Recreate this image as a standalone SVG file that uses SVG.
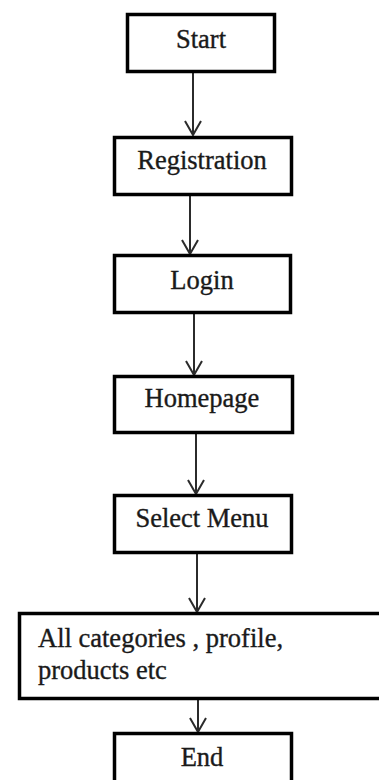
<svg xmlns="http://www.w3.org/2000/svg" width="379" height="780" viewBox="0 0 379 780">
<defs>
<marker id="arr" markerUnits="userSpaceOnUse" markerWidth="20" markerHeight="20" refX="0" refY="0" orient="auto" overflow="visible">
<path d="M-14,-8 L0,0 L-14,8" fill="none" stroke="#2b2b2b" stroke-width="2"/>
</marker>
<style>
.box{fill:#fff;stroke:#000;stroke-width:3.5}
.lbl{font-family:"Liberation Serif","Times New Roman",serif;font-size:26.5px;fill:#1a1a1a;stroke:#1a1a1a;stroke-width:0.35}
.c{text-anchor:middle}
.edge{stroke:#2b2b2b;stroke-width:2;fill:none;marker-end:url(#arr)}
</style>
</defs>
<rect width="379" height="780" fill="#fff"/>
<g id="connectors">
<line class="edge" x1="193" y1="73" x2="193" y2="135"/>
<line class="edge" x1="190" y1="196" x2="190" y2="254"/>
<line class="edge" x1="194" y1="314" x2="194" y2="375"/>
<line class="edge" x1="196" y1="434" x2="196" y2="494"/>
<line class="edge" x1="197" y1="554" x2="197" y2="612"/>
<line class="edge" x1="198" y1="700" x2="198" y2="732"/>
</g>
<g id="start">
<rect class="box" x="127.5" y="14.5" width="147" height="57"/>
<text class="lbl c" x="201" y="48">Start</text>
</g>
<g id="registration">
<rect class="box" x="114.5" y="137.5" width="177" height="57"/>
<text class="lbl c" x="202" y="169">Registration</text>
</g>
<g id="login">
<rect class="box" x="114.5" y="255.5" width="176" height="57"/>
<text class="lbl c" x="202" y="289">Login</text>
</g>
<g id="homepage">
<rect class="box" x="114.5" y="376.5" width="178" height="56"/>
<text class="lbl c" x="202" y="407">Homepage</text>
</g>
<g id="select-menu">
<rect class="box" x="114.5" y="495.5" width="177" height="57"/>
<text class="lbl c" x="202" y="527">Select Menu</text>
</g>
<g id="all-categories">
<rect class="box" x="19.5" y="613.5" width="380" height="85"/>
<text class="lbl" x="38" y="647">All categories , profile,</text>
<text class="lbl" x="38" y="679">products etc</text>
</g>
<g id="end">
<rect class="box" x="114.5" y="733.5" width="177" height="60"/>
<text class="lbl c" x="202" y="766">End</text>
</g>
</svg>
